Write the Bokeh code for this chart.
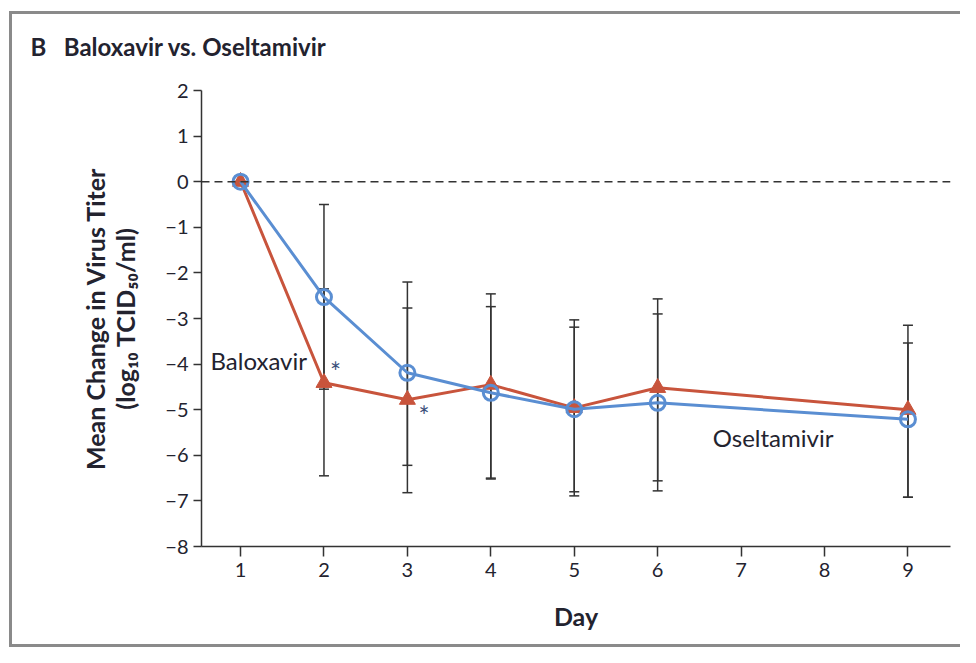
from bokeh.plotting import figure
from bokeh.models import (ColumnDataSource, Whisker, TeeHead, Span, Label, FixedTicker,
                          Range1d, Title)
from bokeh.embed import file_html
from bokeh.resources import INLINE

# ---- data ----
days = [1, 2, 3, 4, 5, 6, 9]
baloxavir = [0.0, -4.41, -4.78, -4.45, -4.96, -4.52, -5.0]
oseltamivir = [0.0, -2.53, -4.19, -4.63, -4.99, -4.85, -5.21]

err_days = [2, 3, 4, 5, 6, 9]
balox_upper = [-2.35, -2.77, -2.74, -3.19, -2.90, -3.15]
balox_lower = [-6.45, -6.82, -6.50, -6.80, -6.56, -6.92]
osel_upper = [-0.50, -2.20, -2.46, -3.03, -2.57, -3.54]
osel_lower = [-4.55, -6.22, -6.52, -6.89, -6.78, -6.92]

x_ticks = [1, 2, 3, 4, 5, 6, 7, 8, 9]
y_ticks = [2, 1, 0, -1, -2, -3, -4, -5, -6, -7, -8]
y_tick_labels = ["2", "1", "0", "\u22121", "\u22122", "\u22123", "\u22124", "\u22125", "\u22126", "\u22127", "\u22128"]

RED = "#c8543c"
BLUE = "#5a8ed2"
INK = "#23232f"
AX = "#333333"
FONT = "Lato"
FR = "#8a8a8a"

FL, FT, FB = 201, 89, 546  # frame left / top / bottom on the canvas

p = figure(width=960, height=647, output_backend="svg", toolbar_location=None,
           x_range=Range1d(0.532, 9.51), y_range=Range1d(-8, 2),
           min_border_left=FL, min_border_right=10, min_border_top=FT, min_border_bottom=647 - FB)
p.background_fill_color = "white"
p.border_fill_alpha = 0
p.outline_line_color = None
p.grid.visible = False

# gray panel frame lines (page background behind the transparent border area)
p.styles = {
    "background": (f"linear-gradient({FR},{FR}) 9px 11px / 3px 640px no-repeat, "
                   f"linear-gradient({FR},{FR}) 9px 11px / 960px 3px no-repeat, "
                   f"linear-gradient({FR},{FR}) 9px 644px / 960px 3px no-repeat, white"),
}

# title
p.title = Title(text="B\u00a0\u00a0\u00a0Baloxavir vs. Oseltamivir", align="left",
                offset=30 - FL, standoff=59,
                text_font=FONT, text_font_size="24px", text_font_style="bold", text_color=INK)

# axes
for ax in (p.xaxis[0], p.yaxis[0]):
    ax.axis_line_color = AX
    ax.axis_line_width = 1.5
    ax.major_tick_line_color = AX
    ax.major_tick_line_width = 1.5
    ax.major_tick_in = 0
    ax.minor_tick_line_color = None
    ax.major_label_text_font = FONT
    ax.major_label_text_font_size = "20px"
    ax.major_label_text_color = INK
    ax.axis_label_text_font = FONT
    ax.axis_label_text_font_style = "bold"
    ax.axis_label_text_color = INK

p.xaxis.ticker = FixedTicker(ticks=x_ticks)
p.xaxis.major_tick_out = 10
p.xaxis.major_label_standoff = 6
p.xaxis.axis_label = "Day"
p.xaxis.axis_label_text_font_size = "25px"
p.xaxis.axis_label_standoff = 21

p.yaxis.ticker = FixedTicker(ticks=y_ticks)
p.yaxis.major_label_overrides = {t: s for t, s in zip(y_ticks, y_tick_labels)}
p.yaxis.major_tick_out = 8
p.yaxis.major_label_standoff = 5
p.yaxis.axis_label = "Mean Change in Virus Titer\n(log\u2081\u2080 TCID\u2085\u2080/ml)"
p.yaxis.axis_label_text_font_size = "25px"
p.yaxis.axis_label_text_line_height = 1.0
p.yaxis.axis_label_standoff = 22

# zero reference line
p.add_layout(Span(location=0, dimension="width", line_color=AX, line_width=1.5, line_dash="8 5"))

# error bars
bsrc = ColumnDataSource(dict(x=err_days, upper=balox_upper, lower=balox_lower))
osrc = ColumnDataSource(dict(x=err_days, upper=osel_upper, lower=osel_lower))
for src in (bsrc, osrc):
    w = Whisker(base="x", upper="upper", lower="lower", source=src,
                line_color=AX, line_width=1.5,
                upper_head=TeeHead(size=10, line_color=AX, line_width=1.5),
                lower_head=TeeHead(size=10, line_color=AX, line_width=1.5))
    p.add_layout(w)

# series
p.line(days, baloxavir, line_color=RED, line_width=3)
p.scatter(days, baloxavir, marker="triangle", size=16, fill_color=RED, line_color=RED, line_width=1)
p.line(days, oseltamivir, line_color=BLUE, line_width=3)
p.scatter(days, oseltamivir, marker="circle", size=15, fill_color=None, line_color=BLUE, line_width=3)

# in-plot annotations
p.add_layout(Label(x=0.64, y=-3.93, text="Baloxavir", text_font=FONT, text_font_size="24px",
                   text_color=INK, text_baseline="middle", text_align="left"))
p.add_layout(Label(x=6.66, y=-5.6, text="Oseltamivir", text_font=FONT, text_font_size="24px",
                   text_color=INK, text_baseline="middle", text_align="left"))
p.add_layout(Label(x=2.14, y=-4.18, text="*", text_font=FONT, text_font_size="26px",
                   text_color="#3a4f7a", text_baseline="middle", text_align="center"))
p.add_layout(Label(x=3.2, y=-5.13, text="*", text_font=FONT, text_font_size="26px",
                   text_color="#3a4f7a", text_baseline="middle", text_align="center"))

open("out.html", "w").write(file_html(p, INLINE))
